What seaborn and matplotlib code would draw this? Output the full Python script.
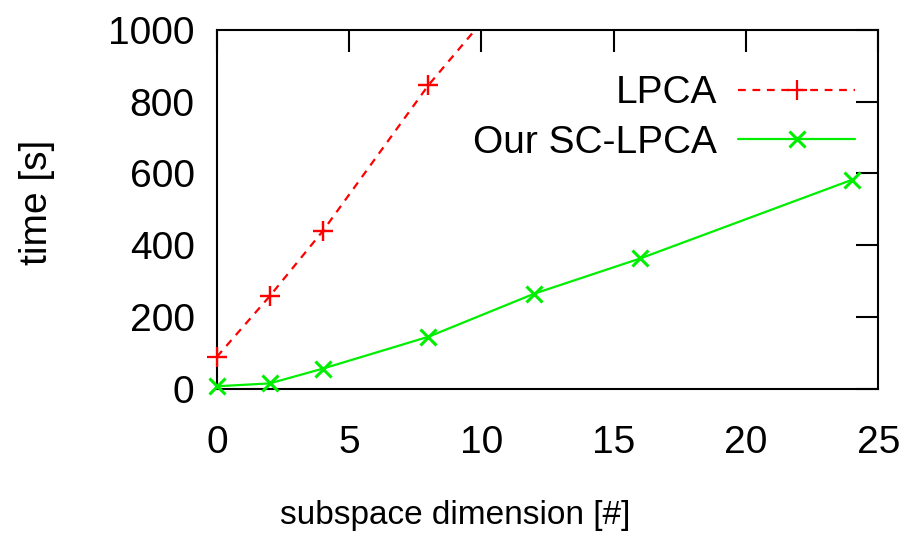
import numpy as np
import pandas as pd
import matplotlib
matplotlib.use("Agg")
import matplotlib.pyplot as plt
import seaborn as sns

# data
lpca_dim = [0, 2, 4, 8, 12]
lpca_time = [89, 258, 439, 846, 1195]
sc_dim = [0, 2, 4, 8, 12, 16, 24]
sc_time = [7, 15, 56, 145, 265, 363, 582]

sns.set_style("white")
plt.rcParams['font.family'] = ['Liberation Sans', 'DejaVu Sans']
plt.rcParams['text.color'] = 'black'
plt.rcParams['axes.labelcolor'] = 'black'

fig = plt.figure(figsize=(9.11, 5.43), dpi=100)
ax = fig.add_axes([0.238, 0.284, 0.726, 0.661])

red = '#ff0000'
green = '#00ee00'

# LPCA: line clipped at the top, markers drawn unclipped where in range
sns.lineplot(x=lpca_dim, y=lpca_time, ax=ax, color=red, linestyle=(0, (3.5, 3)),
             linewidth=1.6, marker='+', markersize=14, markeredgewidth=1.6,
             markeredgecolor=red, label='LPCA')
inside = [i for i, t in enumerate(lpca_time) if t <= 1000]
sns.lineplot(x=[lpca_dim[i] for i in inside], y=[lpca_time[i] for i in inside], ax=ax,
             color=red, linestyle='', marker='+', markersize=14, markeredgewidth=1.6,
             markeredgecolor=red, clip_on=False, legend=False)

sns.lineplot(x=sc_dim, y=sc_time, ax=ax, color=green, linestyle='-',
             linewidth=1.6, marker='x', markersize=12, markeredgewidth=2.2,
             markeredgecolor=green, label='Our SC-LPCA', clip_on=False)

ax.set_xlim(0, 25)
ax.set_ylim(0, 1000)
ax.set_xticks([0, 5, 10, 15, 20, 25])
ax.set_yticks([0, 200, 400, 600, 800, 1000])
ax.tick_params(direction='in', top=True, right=True, length=16, width=1.5,
               labelsize=28, colors='black')
ax.tick_params(axis='x', pad=26)
ax.tick_params(axis='y', pad=16)
for s in ax.spines.values():
    s.set_linewidth(1.5)
    s.set_color('black')
    s.set_zorder(1)

ax.set_xlabel('subspace dimension [#]', fontsize=24)
ax.xaxis.set_label_coords(0.36, -0.31)
ax.set_ylabel('time [s]', fontsize=28)
ax.yaxis.set_label_coords(-0.245, 0.52)

leg = ax.legend(loc='upper right', markerfirst=False, frameon=False, fontsize=28,
                handlelength=3.0, handletextpad=0.55, labelspacing=0.35,
                borderpad=0, borderaxespad=0, bbox_to_anchor=(0.965, 0.873))

fig.savefig('out.png', dpi=100)
